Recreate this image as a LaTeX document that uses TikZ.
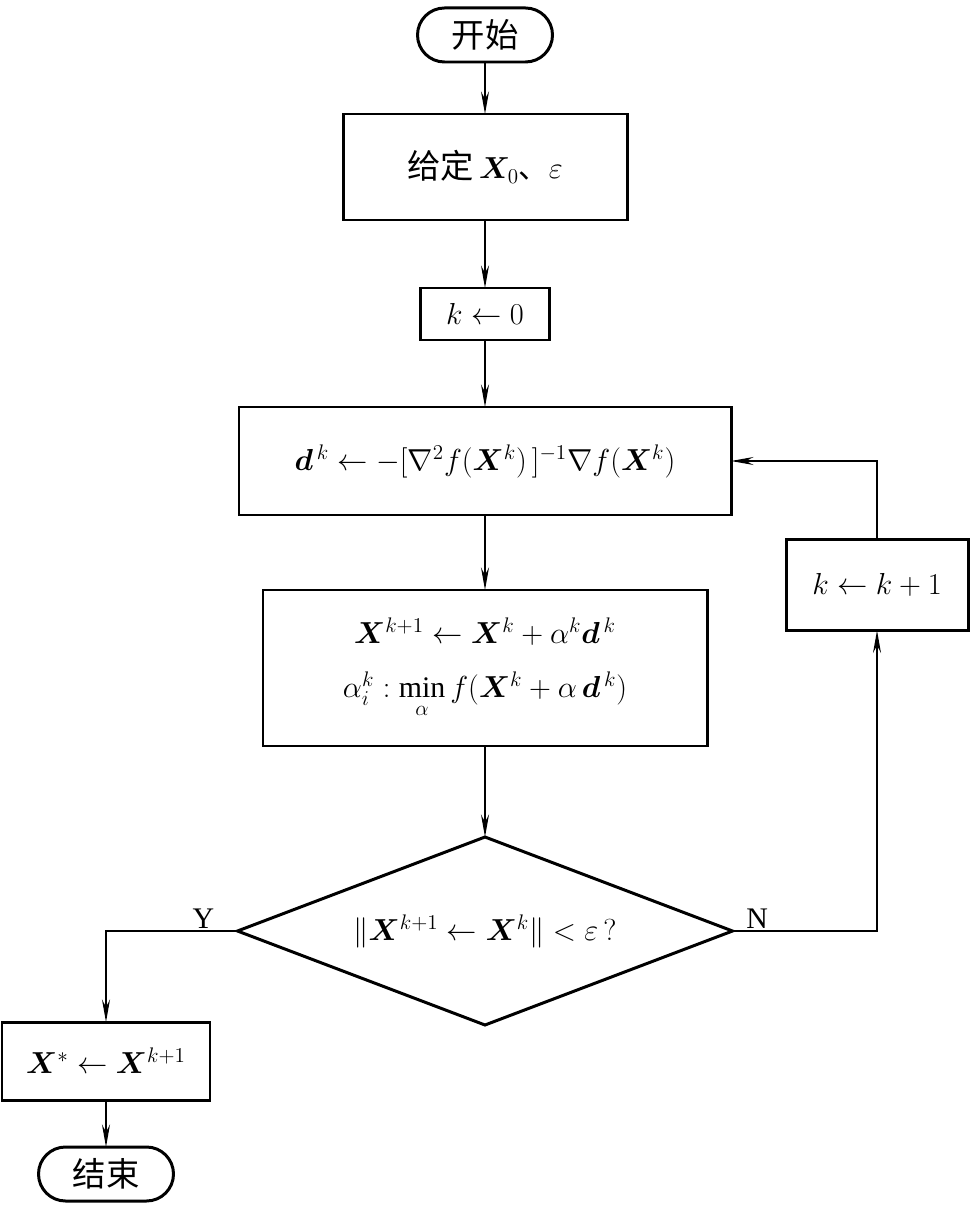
\documentclass[tikz,border=0pt]{standalone}
\usepackage{amsmath,amssymb,bm}
\usepackage{fontspec}
\setmainfont{Liberation Serif}
\newfontfamily\cjk{Noto Sans CJK SC}
\usepackage{tikz}
\usetikzlibrary{arrows.meta, positioning, shapes.geometric, calc}

\begin{document}
\begin{tikzpicture}[
    font=\fontsize{17}{21}\selectfont,
    box/.style={rectangle, draw=black, line width=1.7pt, fill=white,
                inner sep=0pt, outer sep=0pt, align=center},
    term/.style={box, rounded corners=5.4mm, minimum width=2.7cm, minimum height=1.08cm,
                font=\fontsize{19}{22}\selectfont\cjk},
    decision/.style={diamond, draw=black, line width=1.7pt, fill=white, inner sep=0pt,
                outer sep=0pt, minimum width=9.9cm, minimum height=3.76cm, aspect=2.63},
    arrow/.style={-{Stealth[length=4.5mm, width=1.6mm, inset=1.5mm]}, line width=0.7pt},
    lbl/.style={font=\fontsize{17}{20}\selectfont, inner sep=1pt}
]
\useasboundingbox (0,0) rectangle (19.4,-24.2);

\node[term] (start) at (9.7,-0.7) {开始};
\node[box, minimum width=5.68cm, minimum height=2.12cm, below=1.04cm of start] (given)
    {{\cjk\fontsize{19}{22}\selectfont 给定}\,$\bm{X}_0${\cjk 、}$\varepsilon$};
\node[box, minimum width=2.58cm, minimum height=1.04cm, below=1.36cm of given] (init)
    {$k \leftarrow 0$};
\node[box, minimum width=9.84cm, minimum height=2.16cm, below=1.34cm of init] (dir)
    {$\bm{d}^{\,k} \leftarrow -[\nabla^2 f(\bm{X}^k)\,]^{-1}\nabla f(\bm{X}^k)$};
\node[box, minimum width=8.88cm, minimum height=3.12cm, below=1.5cm of dir] (update)
    {$\bm{X}^{k+1} \leftarrow \bm{X}^k + \alpha^k \bm{d}^{\,k}$\\[10pt]
     $\alpha_i^k : \min\limits_{\alpha} f(\bm{X}^k + \alpha\,\bm{d}^{\,k})$};
\node[decision, below=1.82cm of update] (test)
    {$\|\bm{X}^{k+1} \leftarrow \bm{X}^k\| < \varepsilon\,?$};

\node[box, minimum width=3.64cm, minimum height=1.82cm] (incr) at (17.54,-11.7)
    {$k \leftarrow k+1$};
\node[box, minimum width=4.16cm, minimum height=1.56cm] (result) at (2.12,-21.22)
    {$\bm{X}^{*} \leftarrow \bm{X}^{k+1}$};
\node[term, below=0.94cm of result] (stop) {结束};

\draw[arrow] (start) -- (given);
\draw[arrow] (given) -- (init);
\draw[arrow] (init) -- (dir);
\draw[arrow] (dir) -- (update);
\draw[arrow] (update) -- (test);

% Y branch
\draw[arrow] (test.west) -| node[lbl, pos=0.13, above] (ylab) {Y} (result.north);
\draw[arrow] (result) -- (stop);

% N branch, back to the direction step
\draw[arrow] (test.east) -| node[lbl, pos=0.085, above] (nlab) {N} (incr.south);
\draw[arrow] (incr.north) |- (dir.east);

\end{tikzpicture}
\end{document}
